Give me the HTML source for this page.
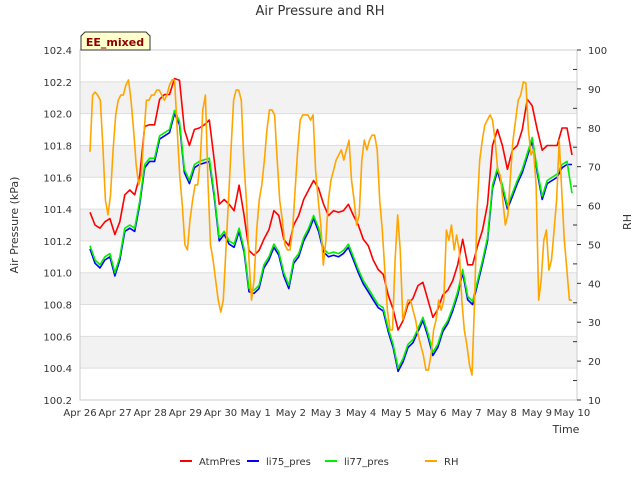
<!DOCTYPE html>
<html><head><meta charset="utf-8"><style>
body{margin:0;background:#fff;font-family:"Liberation Sans","DejaVu Sans",sans-serif}
svg text{font-family:"DejaVu Sans","Liberation Sans",sans-serif}
</style></head><body>
<svg id="chart" width="640" height="480" xmlns="http://www.w3.org/2000/svg">
<text x="320" y="15" text-anchor="middle" font-size="13" fill="#333">Air Pressure and RH</text>
<g id="bands"></g><g id="axes"></g><g id="series"></g>
<g><path d="M81,50 L81,36 L85,32 L146,32 L150,36 L150,50 Z" fill="#ffffcc" stroke="#333" stroke-width="1"/><text x="115" y="46" text-anchor="middle" font-size="11" font-weight="bold" fill="#8b0000">EE_mixed</text></g>
<text transform="translate(18,225) rotate(-90)" text-anchor="middle" font-size="11" fill="#333">Air Pressure (kPa)</text>
<text transform="translate(631,222) rotate(-90)" text-anchor="middle" font-size="11" fill="#333">RH</text>
<text x="566" y="433" text-anchor="middle" font-size="11" fill="#333">Time</text>
<g id="legend"></g>
</svg>
<script>
const xTickLabels=["Apr 26","Apr 27","Apr 28","Apr 29","Apr 30","May 1","May 2","May 3","May 4","May 5","May 6","May 7","May 8","May 9","May 10"];
const yTicks=[100.2,100.4,100.6,100.8,101.0,101.2,101.4,101.6,101.8,102.0,102.2,102.4];
const y2Ticks=[10,20,30,40,50,60,70,80,90,100];
const tStart=0.285, tEnd=14.0;
const atmPres=[101.38,101.30,101.28,101.32,101.34,101.24,101.32,101.49,101.52,101.49,101.61,101.92,101.93,101.93,102.09,102.12,102.12,102.22,102.21,101.90,101.80,101.90,101.91,101.93,101.96,101.71,101.43,101.46,101.43,101.39,101.55,101.36,101.14,101.11,101.14,101.21,101.27,101.39,101.36,101.21,101.17,101.30,101.36,101.46,101.52,101.58,101.53,101.43,101.36,101.39,101.38,101.39,101.43,101.36,101.30,101.21,101.17,101.08,101.02,100.99,100.86,100.77,100.64,100.70,100.80,100.84,100.92,100.94,100.83,100.72,100.77,100.86,100.89,100.95,101.05,101.21,101.05,101.05,101.17,101.27,101.43,101.80,101.90,101.80,101.65,101.77,101.80,101.90,102.09,102.05,101.90,101.77,101.80,101.80,101.80,101.91,101.91,101.74];
const li77Pres=[101.17,101.08,101.05,101.10,101.12,101.00,101.10,101.28,101.30,101.28,101.45,101.68,101.72,101.72,101.86,101.88,101.90,102.02,101.95,101.65,101.58,101.68,101.70,101.71,101.72,101.50,101.22,101.26,101.20,101.18,101.28,101.15,100.90,100.89,100.92,101.05,101.10,101.18,101.13,101.00,100.92,101.08,101.12,101.22,101.28,101.36,101.28,101.15,101.12,101.13,101.12,101.14,101.18,101.10,101.02,100.95,100.90,100.85,100.80,100.78,100.65,100.55,100.40,100.46,100.55,100.58,100.65,100.72,100.62,100.50,100.55,100.65,100.70,100.78,100.88,101.02,100.85,100.82,100.95,101.08,101.22,101.55,101.66,101.55,101.42,101.50,101.58,101.65,101.75,101.85,101.65,101.48,101.58,101.60,101.62,101.68,101.70,101.50];
const li75Pres=[101.15,101.06,101.03,101.08,101.10,100.98,101.08,101.26,101.28,101.26,101.43,101.66,101.70,101.70,101.84,101.86,101.88,102.00,101.93,101.63,101.56,101.66,101.68,101.69,101.70,101.48,101.20,101.24,101.18,101.16,101.26,101.13,100.88,100.87,100.90,101.03,101.08,101.16,101.11,100.98,100.90,101.06,101.10,101.20,101.26,101.34,101.26,101.13,101.10,101.11,101.10,101.12,101.16,101.08,101.00,100.93,100.88,100.83,100.78,100.76,100.63,100.53,100.38,100.44,100.53,100.56,100.63,100.70,100.60,100.48,100.53,100.63,100.68,100.76,100.86,101.00,100.83,100.80,100.93,101.06,101.20,101.53,101.64,101.53,101.40,101.48,101.56,101.63,101.73,101.83,101.63,101.46,101.56,101.58,101.60,101.66,101.68,101.68];
const rhValues=[73.8,88.4,89.2,88.4,87.1,75.6,61.4,57.6,62.7,74.3,83.3,87.1,88.4,88.4,91.0,92.3,87.1,79.4,70.4,65.3,67.8,78.1,87.1,87.1,88.4,88.4,89.7,89.7,88.4,87.1,88.4,91.0,92.3,92.3,79.4,67.8,60.1,49.9,48.6,56.3,61.4,65.3,65.3,71.7,84.6,88.4,66.6,49.9,46.0,40.9,35.7,32.6,35.7,48.6,61.4,74.3,87.1,89.7,89.7,87.1,71.7,61.4,46.0,35.7,40.9,53.7,61.4,65.3,71.7,79.4,84.6,84.6,83.3,71.7,61.4,56.3,49.9,48.6,48.6,53.7,64.0,74.3,82.0,83.3,83.3,83.3,82.0,83.3,69.1,61.4,55.0,44.7,51.1,61.4,66.6,69.1,71.7,73.0,74.3,71.7,74.3,76.8,66.6,61.4,55.0,57.6,71.7,76.8,74.3,76.8,78.1,78.1,74.3,61.4,53.7,43.4,33.1,28.0,28.0,46.0,57.6,48.6,30.6,33.1,35.7,35.7,33.1,30.6,26.7,24.1,21.6,17.7,17.7,21.6,28.0,30.6,35.7,33.1,35.7,53.7,51.1,55.0,48.6,52.4,48.6,35.7,28.0,24.1,19.0,16.4,35.7,58.9,71.7,76.8,80.7,82.0,83.3,82.0,76.8,69.1,67.8,61.4,55.0,57.6,67.8,76.8,82.0,87.1,88.4,91.8,91.5,79.4,73.0,74.3,65.3,35.7,40.9,51.1,53.7,43.4,46.0,53.7,61.4,76.8,64.0,51.1,43.4,35.7,35.7];

const NS="http://www.w3.org/2000/svg";
const L=80,R=577,T=50,B=400,dayW=(572-80)/14;
const xs=d=>L+d*dayW;
const yP=p=>B-(p-100.2)/2.2*(B-T);
const yH=h=>B-(h-10)/90*(B-T);
function mk(tag,attrs,parent){const e=document.createElementNS(NS,tag);for(const k in attrs)e.setAttribute(k,attrs[k]);parent.appendChild(e);return e;}
const bands=document.getElementById('bands'),axes=document.getElementById('axes'),ser=document.getElementById('series'),leg=document.getElementById('legend');
mk('rect',{x:L,y:T,width:R-L,height:B-T,fill:'#fff'},bands);
for(let i=0;i<yTicks.length-1;i++){
  if(i%2===1){const r=mk('rect',{x:L,y:yP(yTicks[i+1]),width:R-L,height:yP(yTicks[i])-yP(yTicks[i+1]),fill:'#f2f2f2'},bands);
  
  }
  mk('line',{x1:L,x2:R,y1:yP(yTicks[i]),y2:yP(yTicks[i]),stroke:'#ddd'},bands);
}
mk('rect',{x:L,y:T,width:R-L,height:B-T,fill:'none',stroke:'#ccc'},axes);
yTicks.forEach(v=>{const t=mk('text',{x:L-8,y:yP(v)+4,'text-anchor':'end','font-size':'10',fill:'#333'},axes);t.textContent=v.toFixed(1);

});
y2Ticks.forEach(v=>{mk('line',{x1:R,x2:R+4,y1:yH(v),y2:yH(v),stroke:'#333'},axes);const t=mk('text',{x:R+11,y:yH(v)+4,'font-size':'10',fill:'#333'},axes);t.textContent=v;


if(v<100)mk('line',{x1:R-4,x2:R,y1:yH(v+5),y2:yH(v+5),stroke:'#333'},axes);});
xTickLabels.forEach((s,i)=>{const t=mk('text',{x:xs(i),y:B+16,'text-anchor':'middle','font-size':'10',fill:'#333'},axes);t.textContent=s;

});
function line(arr,yf,color,name){const n=arr.length;const pts=arr.map((v,i)=>xs(tStart+(tEnd-tStart)*i/(n-1)).toFixed(1)+','+yf(v).toFixed(1)).join(' ');
const p=mk('polyline',{points:pts,fill:'none',stroke:color,'stroke-width':'1.6','stroke-linejoin':'round'},ser);

}
line(atmPres,yP,'#ff0000','atmpres-line');
line(li75Pres,yP,'#0000ff','li75-pres-line');
line(li77Pres,yP,'#00ee00','li77-pres-line');
line(rhValues,yH,'#ffa500','rh-line');
const legItems=[["AtmPres","#ff0000",180],["li75_pres","#0000ff",247],["li77_pres","#00ee00",325],["RH","#ffa500",425]];
legItems.forEach(([s,c,x])=>{const g=mk('g',{},leg);


mk('line',{x1:x,x2:x+12,y1:461,y2:461,stroke:c,'stroke-width':'2'},g);const t=mk('text',{x:x+19,y:465,'font-size':'10',fill:'#333'},g);t.textContent=s;});
</script>
</body></html>
